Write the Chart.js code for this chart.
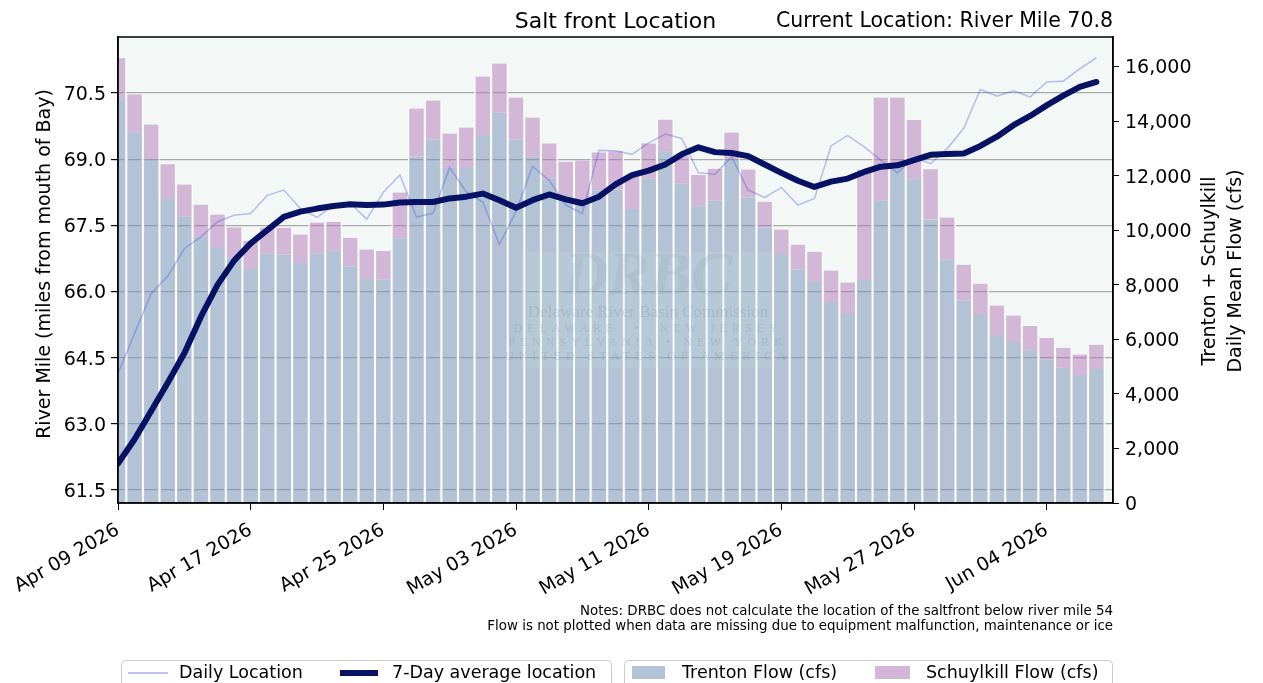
<!DOCTYPE html>
<html>
<head>
<meta charset="utf-8">
<title>Salt front Location</title>
<script src="https://cdn.jsdelivr.net/npm/chart.js@4.4.1/dist/chart.umd.min.js"></script>
<style>
  html, body { margin: 0; padding: 0; background: #ffffff; }
  #wrap { width: 1263px; height: 683px; }
</style>
</head>
<body>
<div id="wrap"><canvas id="saltChart" width="1263" height="683"></canvas></div>
<script>
// days shown on the chart (one bar / one point per day)
var dates = [
    '2026-04-09', '2026-04-10', '2026-04-11', '2026-04-12', '2026-04-13', '2026-04-14', '2026-04-15', '2026-04-16',
    '2026-04-17', '2026-04-18', '2026-04-19', '2026-04-20', '2026-04-21', '2026-04-22', '2026-04-23', '2026-04-24',
    '2026-04-25', '2026-04-26', '2026-04-27', '2026-04-28', '2026-04-29', '2026-04-30', '2026-05-01', '2026-05-02',
    '2026-05-03', '2026-05-04', '2026-05-05', '2026-05-06', '2026-05-07', '2026-05-08', '2026-05-09', '2026-05-10',
    '2026-05-11', '2026-05-12', '2026-05-13', '2026-05-14', '2026-05-15', '2026-05-16', '2026-05-17', '2026-05-18',
    '2026-05-19', '2026-05-20', '2026-05-21', '2026-05-22', '2026-05-23', '2026-05-24', '2026-05-25', '2026-05-26',
    '2026-05-27', '2026-05-28', '2026-05-29', '2026-05-30', '2026-05-31', '2026-06-01', '2026-06-02', '2026-06-03',
    '2026-06-04', '2026-06-05', '2026-06-06', '2026-06-07'
];

// river mile, daily value
var dailyLocation = [
    64.14, 65.05, 65.95, 66.35, 66.97, 67.24, 67.58, 67.73, 67.77, 68.18,
    68.30, 67.88, 67.68, 67.96, 68.00, 67.64, 68.25, 68.64, 67.69, 67.78,
    68.81, 68.26, 68.03, 67.07, 67.81, 68.84, 68.52, 67.96, 67.77, 69.20,
    69.19, 69.11, 69.37, 69.57, 69.47, 68.69, 68.66, 69.05, 68.30, 68.13,
    68.36, 67.96, 68.11, 69.30, 69.54, 69.28, 68.98, 68.69, 69.03, 68.90,
    69.24, 69.70, 70.58, 70.43, 70.55, 70.41, 70.75, 70.77, 71.05, 71.30
];

// river mile, 7-day average
var sevenDayLocation = [
    62.10, 62.65, 63.29, 63.93, 64.60, 65.43, 66.15, 66.70, 67.09, 67.39,
    67.69, 67.81, 67.88, 67.94, 67.98, 67.96, 67.97, 68.02, 68.03, 68.03,
    68.11, 68.15, 68.22, 68.07, 67.90, 68.07, 68.20, 68.09, 68.00, 68.15,
    68.43, 68.64, 68.74, 68.88, 69.11, 69.27, 69.16, 69.14, 69.07, 68.88,
    68.69, 68.51, 68.37, 68.49, 68.56, 68.71, 68.83, 68.86, 68.98, 69.10,
    69.12, 69.13, 69.30, 69.51, 69.77, 69.98, 70.22, 70.44, 70.64, 70.75
];

// daily mean flow, cfs
var trentonFlow = [
    14800, 13590, 12600, 11180, 10490, 9760, 9380, 8970, 8580, 9140,
    9110, 8800, 9150, 9260, 8670, 8250, 8180, 9700, 12700, 13320,
    12280, 12280, 13490, 14300, 13310, 12690, 11880, 11290, 11100, 11450,
    11490, 10780, 11880, 12890, 11700, 10880, 11090, 12590, 11200, 10100,
    9130, 8560, 8100, 7370, 6930, 8170, 11080, 12400, 11870, 10390,
    8920, 7420, 6890, 6160, 5900, 5600, 5270, 4960, 4690, 4910
];

var schuylkillFlow = [
    1500, 1385, 1270, 1235, 1185, 1175, 1190, 1130, 1030, 950,
    980, 1040, 1130, 1050, 1050, 1040, 1060, 1680, 1760, 1430,
    1260, 1480, 2140, 1810, 1550, 1440, 1300, 1220, 1450, 1400,
    1400, 1200, 1300, 1160, 1010, 1140, 1160, 990, 1020, 940,
    890, 910, 1110, 1150, 1150, 4050, 3780, 2460, 2170, 1840,
    1540, 1310, 1150, 1080, 970, 890, 780, 730, 750, 890
];

var mileTicks = [61.5, 63.0, 64.5, 66.0, 67.5, 69.0, 70.5];
var flowTicks = [0, 2000, 4000, 6000, 8000, 10000, 12000, 14000, 16000];
var dateTicks = ['2026-04-09', '2026-04-17', '2026-04-25', '2026-05-03', '2026-05-11', '2026-05-19', '2026-05-27', '2026-06-04'];

var currentMile = 70.8;
var notes = [
    'Notes: DRBC does not calculate the location of the saltfront below river mile 54',
    'Flow is not plotted when data are missing due to equipment malfunction, maintenance or ice'
];

var DAY = 86400000;
var startTime = Date.parse(dates[0]);
function toDay(d) { return (Date.parse(d) - startTime) / DAY; }
var dayIndex = dates.map(toDay);
var MONTHS = ['Jan', 'Feb', 'Mar', 'Apr', 'May', 'Jun', 'Jul', 'Aug', 'Sep', 'Oct', 'Nov', 'Dec'];

function fmtDay(v) {
    var d = new Date(startTime + v * DAY);
    var dd = String(d.getUTCDate()).padStart(2, '0');
    return MONTHS[d.getUTCMonth()] + ' ' + dd + ' ' + d.getUTCFullYear();
}

// put the ticks exactly where the reference has them
function fixedTicks(values) {
    return function (scale) {
        scale.ticks = values.map(function (v) { return { value: v }; });
    };
}

var FONT = '"DejaVu Sans", "Liberation Sans", sans-serif';
var dailyColor = 'rgba(70, 85, 220, 0.35)';
var avgColor = 'rgb(8, 18, 100)';
var trentonColor = 'rgba(120, 145, 182, 0.52)';
var schuylkillColor = 'rgba(180, 118, 182, 0.5)';

Chart.defaults.font.family = FONT;
Chart.defaults.color = '#000';

// plot background, frame, titles, notes, watermark and the two legend boxes
var decorPlugin = {
    id: 'decor',
    beforeDraw: function (chart) {
        var ctx = chart.ctx, a = chart.chartArea;
        ctx.save();
        ctx.fillStyle = '#ffffff';
        ctx.fillRect(0, 0, chart.width, chart.height);
        ctx.fillStyle = '#f3f8f6';
        ctx.fillRect(a.left, a.top, a.right - a.left, a.bottom - a.top);
        ctx.restore();
    },
    afterDatasetsDraw: function (chart) {
        var ctx = chart.ctx;
        // faint DRBC watermark
        ctx.save();
        ctx.fillStyle = 'rgba(210, 225, 222, 0.15)';
        ctx.fillRect(521, 252, 254, 116);
        ctx.textAlign = 'center';
        ctx.textBaseline = 'middle';
        ctx.fillStyle = 'rgba(120, 140, 160, 0.12)';
        ctx.font = 'italic bold 62px "Liberation Serif", serif';
        ctx.fillText('DRBC', 648, 278);
        ctx.fillStyle = 'rgba(110, 130, 150, 0.22)';
        ctx.font = '17px "Liberation Serif", serif';
        ctx.fillText('Delaware River Basin Commission', 648, 313);
        ctx.font = '12px "Liberation Serif", serif';
        if ('letterSpacing' in ctx) ctx.letterSpacing = '5px';
        ctx.fillText('DELAWARE  \u2022  NEW JERSEY', 648, 329);
        ctx.fillText('PENNSYLVANIA \u2022 NEW YORK', 648, 343);
        ctx.fillText('UNITED STATES OF AMERICA', 648, 357);
        ctx.restore();
    },
    afterDraw: function (chart) {
        var ctx = chart.ctx, a = chart.chartArea;
        ctx.save();
        // frame
        ctx.strokeStyle = '#000';
        ctx.lineWidth = 1.5;
        ctx.strokeRect(a.left, a.top, a.right - a.left, a.bottom - a.top);

        // titles
        ctx.fillStyle = '#000';
        ctx.textBaseline = 'middle';
        ctx.font = '22px ' + FONT;
        ctx.textAlign = 'center';
        ctx.fillText('Salt front Location', (a.left + a.right) / 2, 22);
        ctx.font = '20.5px ' + FONT;
        ctx.textAlign = 'right';
        ctx.fillText('Current Location: River Mile ' + currentMile.toFixed(1), a.right, 22);

        // axis titles
        ctx.font = '19px ' + FONT;
        ctx.textAlign = 'center';
        ctx.save();
        ctx.translate(45, 264);
        ctx.rotate(-Math.PI / 2);
        ctx.fillText('River Mile (miles from mouth of Bay)', 0, 0);
        ctx.restore();
        ctx.save();
        ctx.translate(1210, 271);
        ctx.rotate(-Math.PI / 2);
        ctx.fillText('Trenton + Schuylkill', 0, 0);
        ctx.fillText('Daily Mean Flow (cfs)', 0, 26);
        ctx.restore();

        // notes
        ctx.font = '13.4px ' + FONT;
        ctx.textAlign = 'right';
        ctx.fillText(notes[0], a.right, 612);
        ctx.fillText(notes[1], a.right, 627);

        // legend boxes
        var ds = chart.data.datasets;
        function box(x0, x1) {
            ctx.beginPath();
            ctx.strokeStyle = '#cccccc';
            ctx.lineWidth = 1;
            ctx.roundRect(x0 + 0.5, 660.5, x1 - x0, 40, 4);
            ctx.fillStyle = '#ffffff';
            ctx.fill();
            ctx.stroke();
        }
        box(121, 611);
        box(624, 1112);
        var ly = 673;
        ctx.font = '17.5px ' + FONT;
        ctx.textAlign = 'left';
        ctx.lineCap = 'butt';
        [[ds[0], 128, 168, 179, 2], [ds[1], 340, 378, 392, 6]].forEach(function (it) {
            ctx.beginPath();
            ctx.strokeStyle = it[0].borderColor;
            ctx.lineWidth = it[4];
            ctx.moveTo(it[1], ly);
            ctx.lineTo(it[2], ly);
            ctx.stroke();
            ctx.fillStyle = '#000';
            ctx.fillText(it[0].label, it[3], ly);
        });
        [[ds[2], 632, 665, 682], [ds[3], 875, 910, 926]].forEach(function (it) {
            ctx.fillStyle = '#f3f8f6';
            ctx.fillRect(it[1], ly - 7, it[2] - it[1], 13);
            ctx.fillStyle = it[0].backgroundColor;
            ctx.fillRect(it[1], ly - 7, it[2] - it[1], 13);
            ctx.fillStyle = '#000';
            ctx.fillText(it[0].label, it[3], ly);
        });
        ctx.restore();
    }
};

var ctx = document.getElementById('saltChart').getContext('2d');
var chart = new Chart(ctx, {
    type: 'bar',
    data: {
        labels: dayIndex,
        datasets: [{
            type: 'line',
            label: 'Daily Location',
            data: dailyLocation,
            yAxisID: 'yMile',
            borderColor: dailyColor,
            backgroundColor: dailyColor,
            borderWidth: 1.6,
            pointRadius: 0,
            tension: 0,
            order: 1
        }, {
            type: 'line',
            label: '7-Day average location',
            data: sevenDayLocation,
            yAxisID: 'yMile',
            borderColor: avgColor,
            backgroundColor: avgColor,
            borderWidth: 6,
            borderCapStyle: 'round',
            borderJoinStyle: 'round',
            pointRadius: 0,
            tension: 0,
            order: 0
        }, {
            label: 'Trenton Flow (cfs)',
            data: trentonFlow,
            yAxisID: 'yFlow',
            stack: 'flow',
            backgroundColor: trentonColor,
            borderColor: '#ffffff',
            borderWidth: { left: 1.3, right: 1.3, top: 0, bottom: 0 },
            borderSkipped: false,
            barPercentage: 1,
            categoryPercentage: 1,
            order: 2
        }, {
            label: 'Schuylkill Flow (cfs)',
            data: schuylkillFlow,
            yAxisID: 'yFlow',
            stack: 'flow',
            backgroundColor: schuylkillColor,
            borderColor: '#ffffff',
            borderWidth: { left: 1.3, right: 1.3, top: 0, bottom: 0 },
            borderSkipped: false,
            barPercentage: 1,
            categoryPercentage: 1,
            order: 3
        }]
    },
    options: {
        responsive: false,
        devicePixelRatio: 1,
        animation: false,
        layout: { padding: { top: 37, left: 0, right: 0, bottom: 0 } },
        plugins: {
            legend: { display: false },
            title: { display: false },
            tooltip: { enabled: false }
        },
        scales: {
            x: {
                type: 'linear',
                min: 0,
                max: 60,
                offset: false,
                stacked: true,
                grid: { drawOnChartArea: false, drawTicks: true, tickLength: 7, tickColor: '#000', offset: false },
                border: { color: '#000', width: 1.5 },
                ticks: {
                    minRotation: 30,
                    maxRotation: 30,
                    autoSkip: false,
                    padding: 9,
                    color: '#000',
                    font: { size: 19 },
                    callback: function (v) { return fmtDay(v); }
                },
                afterBuildTicks: fixedTicks(dateTicks.map(toDay)),
                afterFit: function (scale) { scale.height = 180; }
            },
            yMile: {
                type: 'linear',
                position: 'left',
                min: 61.205,
                max: 71.77,
                grid: { color: '#a9a9a9', lineWidth: 1.2, tickColor: '#000', tickLength: 7 },
                border: { color: '#000', width: 1.5 },
                ticks: {
                    autoSkip: false,
                    padding: 5,
                    labelOffset: 2,
                    color: '#000',
                    font: { size: 19 },
                    callback: function (v) { return v.toFixed(1); }
                },
                afterBuildTicks: fixedTicks(mileTicks),
                afterFit: function (scale) { scale.width = 118; }
            },
            yFlow: {
                type: 'linear',
                position: 'right',
                min: 0,
                max: 17080,
                stacked: true,
                grid: { drawOnChartArea: false, tickColor: '#000', tickLength: 6 },
                border: { color: '#000', width: 1.5 },
                ticks: {
                    autoSkip: false,
                    padding: 6,
                    labelOffset: 2,
                    color: '#000',
                    font: { size: 19 },
                    callback: function (v) { return v.toLocaleString('en-US'); }
                },
                afterBuildTicks: fixedTicks(flowTicks),
                afterFit: function (scale) { scale.width = 150; }
            }
        }
    },
    plugins: [decorPlugin]
});
</script>
</body>
</html>
